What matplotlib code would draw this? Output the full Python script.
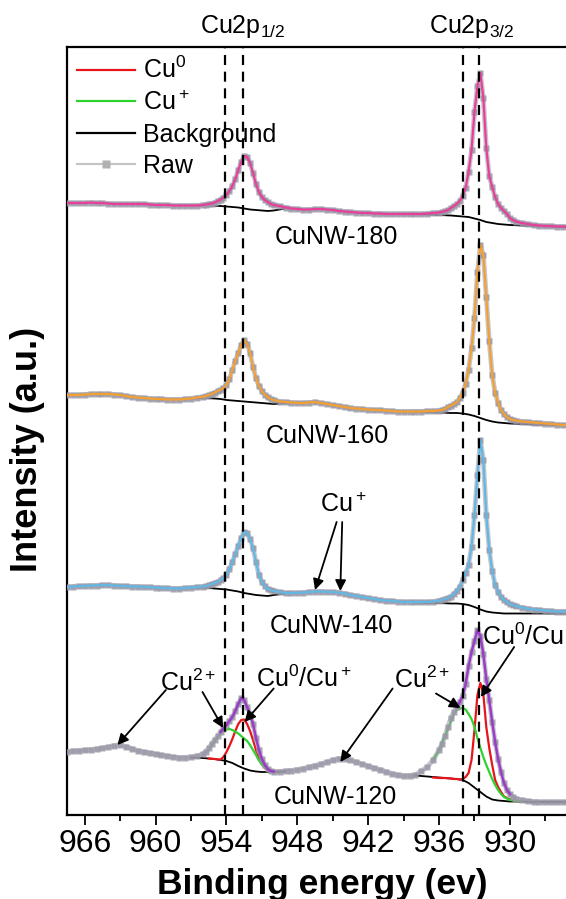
import matplotlib
matplotlib.use('Agg')
import matplotlib.pyplot as plt
from matplotlib.lines import Line2D
import numpy as np

plt.rcParams['font.family'] = 'Liberation Sans'
plt.rcParams['mathtext.fontset'] = 'custom'
plt.rcParams['mathtext.rm'] = 'Liberation Sans'
plt.rcParams['mathtext.it'] = 'Liberation Sans:italic'
plt.rcParams['mathtext.bf'] = 'Liberation Sans:bold'

# binding energy grid (eV)
energy = [967.5, 967.0, 966.5, 966.0, 965.5, 965.0, 964.5, 964.0, 963.5, 963.0, 962.5, 962.0,
          961.5, 961.0, 960.5, 960.0, 959.5, 959.0, 958.5, 958.0, 957.5, 957.0, 956.5, 956.0,
          955.75, 955.5, 955.25, 955.0, 954.75, 954.5, 954.25, 954.0, 953.75, 953.5, 953.25, 953.0,
          952.75, 952.5, 952.25, 952.0, 951.75, 951.5, 951.25, 951.0, 950.75, 950.5, 950.25,
          950.0, 949.5, 949.0, 948.5, 948.0, 947.5, 947.0, 946.5, 946.0, 945.5, 945.0, 944.5,
          944.0, 943.5, 943.0, 942.5, 942.0, 941.5, 941.0, 940.5, 940.0, 939.5, 939.0, 938.5,
          938.0, 937.5, 937.0, 936.5, 936.0,
          935.75, 935.5, 935.25, 935.0, 934.75, 934.5, 934.25, 934.0, 933.75, 933.5, 933.25, 933.0,
          932.75, 932.5, 932.25, 932.0, 931.75, 931.5, 931.25, 931.0, 930.75, 930.5, 930.25, 930.0,
          929.75,
          929.5, 929.0, 928.5, 928.0, 927.5, 927.0, 926.5, 926.0, 925.5, 925.0, 924.5, 924.0,
          923.5, 923.0, 922.5, 922.0]

samples = ['CuNW-180', 'CuNW-160', 'CuNW-140', 'CuNW-120']
offsets = [587, 388, 200, 0]

raw_180 = [25, 25, 25, 25, 25.5, 25, 25, 24.5, 24, 24, 24, 24, 24, 24, 23.5, 23, 23, 23, 22.5, 22.5, 22.5, 22.5, 22.5, 23,
           23.5, 24, 24.5, 25.5, 27, 28.5, 30.5, 33, 37, 42, 49, 58, 66, 72, 71, 65, 55, 44, 36, 31, 28, 26, 24,
           23, 22, 20.5, 19.5, 19, 18.5, 18.5, 19, 19, 18.5, 18, 17, 16.5, 16, 15.5, 15, 15, 14.5, 14.5, 14, 14, 14, 14, 14, 14, 14, 14.5, 15, 15.5,
           16, 17, 18, 20, 22, 24, 27, 32, 40, 56, 78, 116, 142, 155, 130, 80, 52, 41, 31, 24, 20, 17, 14, 10, 8,
           6.5, 5, 4, 3, 2.5, 2, 2, 1.5, 1.5, 1, 1, 1, 1, 1, 1, 1]
raw_160 = [32, 32, 32, 32.5, 33, 33, 33, 33, 32.5, 32, 31, 30, 29.5, 29, 28.5, 28, 28, 27.5, 27.5, 27.5, 28, 28.5, 29.5, 30,
           31, 32, 33, 34.5, 36, 37.5, 39, 42, 48, 57, 66, 74, 82, 87, 83, 74, 60, 49, 41, 36, 32, 30, 28,
           27, 25.5, 25, 24.5, 24, 24, 24.5, 25, 24, 23, 22, 21, 20, 19, 18.5, 18, 17.5, 17, 17, 16.5, 16, 15.5, 15.5, 15.5, 15.5, 15.5, 16, 16, 16.5,
           17, 18, 20, 21.5, 23, 25, 29, 34, 43, 57, 79, 109, 155, 182, 172, 130, 86, 52, 34, 24, 17, 13, 10, 8, 7,
           6.5, 5.5, 5, 4.5, 4, 3.5, 3, 2.5, 2, 2, 2, 2, 2, 2, 2, 2]
raw_140 = [28, 28.5, 29, 29, 29.5, 29.5, 30, 30, 29.5, 29, 29, 28.5, 28.5, 28, 28, 27.5, 27, 27, 26.5, 26.5, 27, 27.5, 28, 28.5,
           29, 30, 31, 32, 33, 35, 37, 40, 46, 53, 61, 69, 77, 83, 82, 76, 67, 53, 40, 33, 29, 26, 25,
           24, 23, 22, 22, 22, 22.5, 23, 23.5, 23.5, 23, 23, 22.5, 21.5, 20, 19, 18, 17, 16, 15, 14.5, 14, 13.5, 13, 13, 13, 13, 13, 13.5, 14.5,
           15, 16, 17, 18.5, 21, 24.5, 28, 35, 42, 50, 68, 100, 140, 175, 155, 100, 65, 44, 30, 23, 18, 15, 13, 11, 10,
           9, 7.5, 6.5, 5.5, 5, 4.5, 4, 3.5, 3.5, 3, 3, 3, 3, 3, 3, 3]
raw_120 = [63.5, 64, 64.5, 65, 65.5, 66, 67, 68, 69.5, 70, 68.5, 66.5, 64.5, 63, 62, 61, 60, 59, 58, 57.5, 57.5, 58, 59, 61,
           63.5, 67, 71, 75.5, 79, 83, 86.5, 90, 94, 98, 104, 111, 117, 115, 108, 101, 91, 77, 65, 56, 50, 46, 44,
           43.5, 43.5, 44, 44.5, 45.5, 46.5, 48, 49.5, 51, 53, 55, 56.5, 56.5, 55, 53, 51, 49, 47, 45.5, 43.5, 41.5, 40, 39.5, 39.5, 40, 44, 48, 55, 65,
           71, 79, 88, 97, 103, 108, 113, 119, 131, 149, 163, 174, 185, 179, 161, 136, 115, 93, 73, 56, 43, 32, 25, 21, 18,
           16.5, 15, 14, 13.5, 13, 13, 13, 13, 13, 13, 13, 13, 13, 13, 13, 13]

# Shirley-type backgrounds (gap between the two regions)
bg_energy = [957, 956, 955, 954.5, 954, 953.5, 953, 952.5, 952, 951.5, 951, 950.5, 950, 949, np.nan,
             938, 937, 936, 935, 934.5, 934, 933.5, 933, 932.5, 932, 931.5, 931, 930.5, 930, 929, 928, 926, 924, 922]
bg_180 = [22.5, 22.5, 22, 22, 21.5, 21, 20.5, 19.5, 18.5, 18, 17.5, 17, 17.5, 19.5, np.nan,
          14, 13.5, 13, 12.5, 12, 11.5, 11, 9.5, 8, 6, 5, 4, 3.5, 3, 2.5, 2, 1, 0.5, 0.5]
bg_160 = [28.5, 29, 28.5, 28, 27, 26.5, 26, 25.5, 25, 24.5, 24, 23.5, 23, 24, np.nan,
          15.5, 15, 14.5, 14, 14, 13.5, 12.5, 11, 9, 7, 5.5, 4.5, 4, 3.5, 3, 2.5, 2, 1.5, 1.5]
bg_140 = [27.5, 27.5, 26.5, 26, 25.5, 24.5, 23.5, 22, 21, 20, 19.5, 19, 20, 21.5, np.nan,
          12.5, 12, 12, 11.5, 11.5, 11, 10, 8, 5.5, 3.5, 2.5, 2, 1.5, 1.5, 1.5, 1.5, 1.5, 1.5, 1.5]
bg_120 = [57.5, 57, 56, 55, 54, 52, 49, 46.5, 44.5, 43.5, 43, 43, 43, 43.5, np.nan,
          39.5, 38.5, 37.5, 36.5, 36, 35, 32, 27.5, 23, 18.5, 15.5, 14.5, 14, 13.5, 13.5, 13, 13, 13, 13]

# fitted components of CuNW-120
comp_energy_12 = [955.5, 955, 954.75, 954.5, 954.25, 954, 953.75, 953.5, 953.25, 953, 952.75, 952.5, 952.25,
                  952, 951.75, 951.5, 951.25, 951, 950.75, 950.5, 950]
cu0_12 = [56.5, 56, 55.5, 55.5, 58, 63, 69, 76, 84, 91, 95, 95.5, 91, 84, 75, 65, 57, 51, 47, 44.5, 43]
cu2_12 = [65, 74, 78, 81.5, 84, 85.5, 86, 85, 83.5, 81.5, 79, 76.5, 74, 70, 65, 60, 54.5, 50.5, 47.5, 45.5, 43.5]
comp_energy_32 = [936.5, 936, 935.5, 935, 934.75, 934.5, 934.25, 934, 933.75, 933.5, 933.25, 933, 932.75,
                  932.5, 932.25, 932, 931.75, 931.5, 931.25, 931, 930.75, 930.5, 930, 929.5, 929]
cu0_32 = [37.5, 37, 37, 36.5, 36, 36, 35.5, 36, 38, 42, 55, 85, 120, 132, 121, 88, 67, 50, 35, 28, 23, 18.5, 15.5, 14, 13.5]
cu2_32 = [55, 65, 79, 93, 101, 105, 106.5, 107, 105.5, 101, 96, 88, 77, 67, 58, 50, 43, 36, 30, 25, 21, 18, 15, 14, 13.5]

ref_lines = [954.1, 952.6, 934.0, 932.6]

raws = [raw_180, raw_160, raw_140, raw_120]
bgs = [bg_180, bg_160, bg_140, bg_120]
fit_colors = ['#e8409a', '#f3a033', '#62b8e4', '#9b3cc8']
label_pos = [(944.67, 570.5), (945.43, 372), (945.14, 182), (944.8, 11.5)]

RED = '#e8141c'
GREEN = '#2fd22f'
RAW = '#9a98a6'

fig = plt.figure(figsize=(5.66, 8.99), dpi=100)
ax = fig.add_axes([67 / 566, 1 - 815 / 899, 537.4 / 566, 768 / 899])

E = np.array(energy)
bgE = np.array(bg_energy)
for name, off, raw, bg, col, (lx, ly) in zip(samples, offsets, raws, bgs, fit_colors, label_pos):
    y = np.array(raw) + off
    ax.plot(bgE, np.array(bg) + off, color='k', lw=1.3, zorder=2)
    # raw data: dense square markers give a grey band
    ax.plot(E, y, color=RAW, lw=3.5, alpha=0.55, solid_capstyle='round', zorder=3)
    ax.plot(E, y, color=RAW, lw=0, marker='s', ms=4.5, mec='none', alpha=0.85, zorder=3)
    if name == 'CuNW-120':
        for lo, hi in [(950.0, 954.5), (930.0, 934.5)]:
            m = (E >= lo) & (E <= hi)
            ax.plot(E[m], y[m], color=col, lw=1.8, zorder=6)
    else:
        ax.plot(E, y, color=col, lw=1.6, zorder=4)
    ax.text(lx, ly, name, ha='center', va='baseline', fontsize=18, zorder=8)

# fitted components sit beneath the raw band, as in the reference
ax.plot(comp_energy_12, cu0_12, color=RED, lw=1.6, zorder=2.5)
ax.plot(comp_energy_12, cu2_12, color=GREEN, lw=1.6, zorder=2.5)
ax.plot(comp_energy_32, cu0_32, color=RED, lw=1.6, zorder=2.5)
ax.plot(comp_energy_32, cu2_32, color=GREEN, lw=1.6, zorder=2.5)

for xv in ref_lines:
    ax.axvline(xv, color='k', lw=1.6, ls=(0, (4.5, 3)), zorder=7)

# annotations
arrow = dict(arrowstyle='-|>', color='k', lw=1.3, mutation_scale=16, shrinkA=0, shrinkB=0)
def arr(start, tip):
    ax.annotate('', xy=tip, xytext=start, arrowprops=arrow, zorder=9)

ax.text(944.1, 303, 'Cu$^+$', ha='center', va='baseline', fontsize=18)
arr((944.67, 293), (946.5, 225))
arr((944.2, 293), (944.36, 224))

ax.text(957.25, 124, 'Cu$^{2+}$', ha='center', va='baseline', fontsize=18)
arr((959.13, 125), (963.23, 70))
arr((956.03, 123), (954.28, 87))
ax.text(947.42, 128, 'Cu$^0$/Cu$^+$', ha='center', va='baseline', fontsize=18)
arr((950.0, 126.5), (952.46, 93))
ax.text(937.43, 127, 'Cu$^{2+}$', ha='center', va='baseline', fontsize=18)
arr((939.93, 126.5), (944.36, 53))
arr((936.26, 121.5), (934.18, 107))
ax.text(932.33, 170, 'Cu$^0$/Cu$^+$', ha='left', va='baseline', fontsize=18)
arr((929.64, 168), (932.46, 118))

ax.set_xlim(967.5, 922)
ax.set_ylim(0, 768)
ax.set_xticks([966, 960, 954, 948, 942, 936, 930])
ax.set_xticks([963, 957, 951, 945, 939, 933, 927], minor=True)
ax.set_yticks([])
ax.tick_params(axis='x', which='major', direction='out', length=7.2, width=1.3, labelsize=23, pad=3)
ax.tick_params(axis='x', which='minor', direction='out', length=4.3, width=1.3)
for s in ax.spines.values():
    s.set_linewidth(1.6)

handles = [Line2D([], [], color=RED, lw=1.6),
           Line2D([], [], color=GREEN, lw=1.6),
           Line2D([], [], color='k', lw=1.6),
           Line2D([], [], color='#c4c4c4', lw=1.6, marker='s', ms=6, mfc='#b0b0b0', mec='none')]
ax.legend(handles, ['Cu$^0$', 'Cu$^+$', 'Background', 'Raw'], loc='upper left',
          bbox_to_anchor=(10 / 537.4, (815 - 57) / 768), frameon=False, fontsize=18,
          handlelength=2.3, handletextpad=0.35, labelspacing=0.3, borderpad=0, borderaxespad=0)

fig.text(243 / 566, 1 - 33 / 899, 'Cu2p$_{1/2}$', ha='center', va='baseline', fontsize=18)
fig.text(472 / 566, 1 - 33 / 899, 'Cu2p$_{3/2}$', ha='center', va='baseline', fontsize=18)
fig.text(322 / 566, 1 - 894 / 899, 'Binding energy (ev)', ha='center', va='baseline',
         fontsize=25.5, fontweight='bold')
fig.text(27.5 / 566, 1 - 449 / 899, 'Intensity (a.u.)', ha='center', va='center',
         rotation=90, fontsize=26, fontweight='bold')

fig.savefig('out.png', dpi=100)
